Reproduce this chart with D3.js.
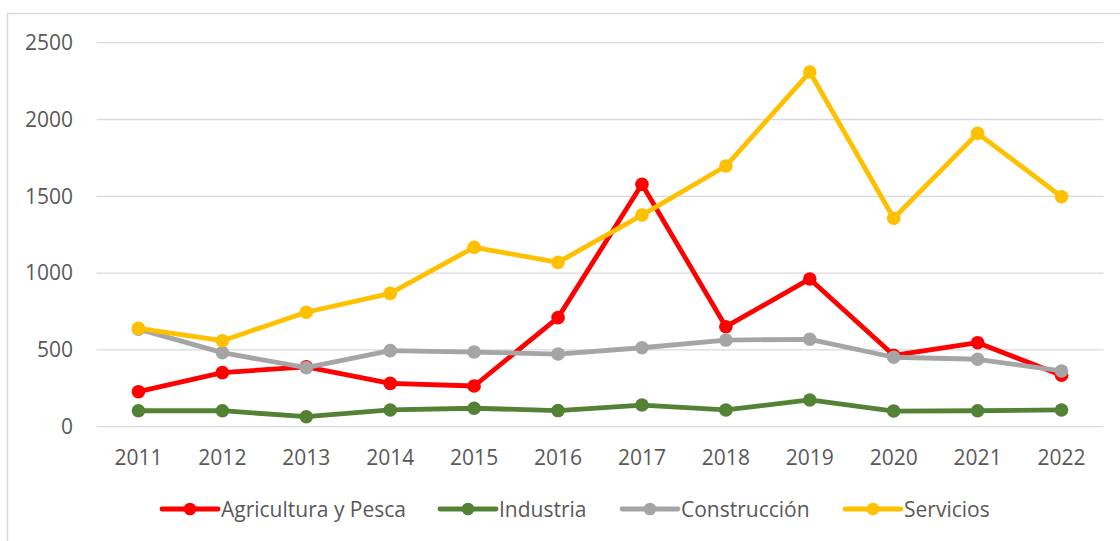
<!DOCTYPE html>
<html>
<head>
<meta charset="utf-8">
<script src="https://cdn.jsdelivr.net/npm/d3@7"></script>
<style>
html,body{margin:0;padding:0;background:#fff;}
svg{display:block;}
text{font-family:"Open Sans",sans-serif;fill:#595959;}
</style>
</head>
<body>
<svg id="chart" width="1120" height="541"></svg>
<script>
const years = ["2011","2012","2013","2014","2015","2016","2017","2018","2019","2020","2021","2022"];
const agricultura = [228, 352, 390, 282, 265, 710, 1578, 651, 962, 465, 547, 335];
const industria = [104, 104, 65, 109, 120, 105, 141, 109, 174, 102, 104, 109];
const construccion = [635, 482, 384, 495, 486, 473, 514, 564, 569, 452, 439, 363];
const servicios = [640, 560, 745, 868, 1168, 1070, 1378, 1697, 2309, 1357, 1910, 1497];
const seriesNames = ["Agricultura y Pesca", "Industria", "Construcción", "Servicios"];
const seriesColors = ["#FF0000", "#548235", "#A5A5A5", "#FFC000"];
const yTicks = [0, 500, 1000, 1500, 2000, 2500];

(function () {
const series = [agricultura, industria, construccion, servicios].map((v, i) => ({
  name: seriesNames[i], color: seriesColors[i], values: v
}));

const svg = d3.select("#chart");
const W = 1120, H = 541;
const pLeft = 96.5, pRight = 1103.5, pTop = 42.7, pBottom = 426.7;
const FS = 21;

// chart border
svg.append("path").attr("d", `M7.5,${H} L7.5,13.5 L${W},13.5`)
  .attr("fill", "none").attr("stroke", "#D9D9D9").attr("stroke-width", 1.5);

const x = d3.scaleBand().domain(years).range([pLeft, pRight]);
const y = d3.scaleLinear().domain([0, 2500]).range([pBottom, pTop]);

// gridlines
svg.append("g").selectAll("line").data(yTicks).join("line")
  .attr("x1", pLeft).attr("x2", pRight)
  .attr("y1", d => y(d)).attr("y2", d => y(d))
  .attr("stroke", "#D9D9D9").attr("stroke-width", 1.3);

// y axis labels
const yAxis = d3.axisLeft(y).tickValues(yTicks).tickSize(0).tickPadding(0).tickFormat(d3.format("d"));
const gy = svg.append("g").attr("transform", `translate(73,0)`).call(yAxis);
gy.select(".domain").remove();
gy.selectAll("text").attr("font-size", FS).attr("font-family", "Open Sans").attr("fill", "#595959");

// x axis labels
const xAxis = d3.axisBottom(x).tickSize(0).tickPadding(0);
const gx = svg.append("g").attr("transform", `translate(0,${pBottom})`).call(xAxis);
gx.select(".domain").remove();
gx.selectAll("text").attr("font-size", FS).attr("font-family", "Open Sans").attr("fill", "#595959")
  .attr("dy", null).attr("y", 38.5);

const cx = d => x(d) + x.bandwidth() / 2;
const line = d3.line().x((d, i) => cx(years[i])).y(d => y(d));

series.forEach(s => {
  const g = svg.append("g");
  g.append("path").datum(s.values).attr("d", line)
    .attr("fill", "none").attr("stroke", s.color).attr("stroke-width", 4.8)
    .attr("stroke-linejoin", "round").attr("stroke-linecap", "round");
  g.selectAll("circle").data(s.values).join("circle")
    .attr("cx", (d, i) => cx(years[i])).attr("cy", d => y(d))
    .attr("r", 6.8).attr("fill", s.color);
});

// legend
const legendX = [162, 440, 622, 845];
const lg = svg.append("g");
series.forEach((s, i) => {
  const g = lg.append("g").attr("transform", `translate(${legendX[i]},509)`);
  g.append("line").attr("x1", 0).attr("x2", 56).attr("y1", 0).attr("y2", 0)
    .attr("stroke", s.color).attr("stroke-width", 4.8).attr("stroke-linecap", "round");
  g.append("circle").attr("cx", 28).attr("cy", 0).attr("r", 6.3).attr("fill", s.color);
  g.append("text").attr("x", 59).attr("y", 7.5).attr("font-size", FS).text(s.name);
});
})();
</script>
</body>
</html>
